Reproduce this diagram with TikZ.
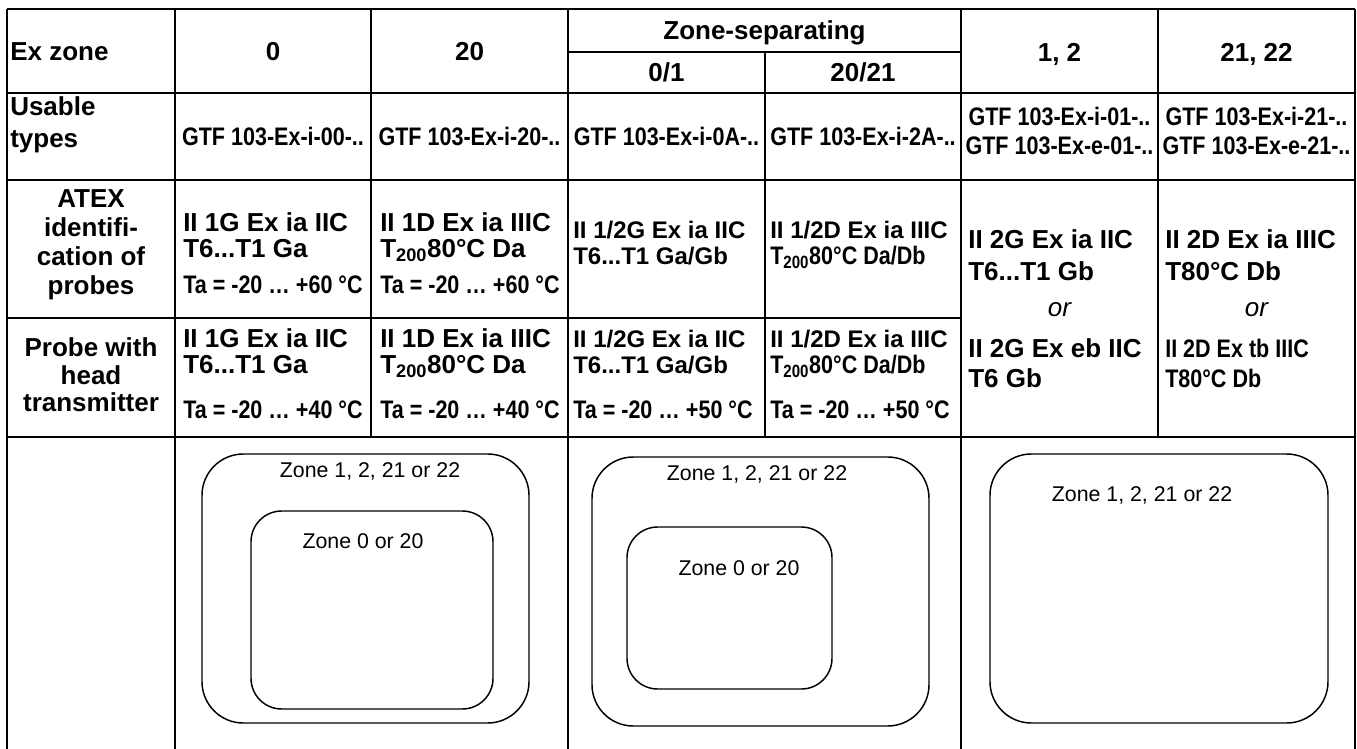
\documentclass[tikz,border=0pt]{standalone}
\usepackage{fontspec}
\setmainfont{Liberation Sans}
\newfontfamily\narrowfont[FakeStretch=0.85]{Liberation Sans}
\usepackage{tikz}

\tikzset{
  rule/.style={line width=1.5pt},
  zonebox/.style={line width=1.1pt, rounded corners=31pt},
  zoneboxin/.style={line width=1.1pt, rounded corners=23pt},
  hd/.style={inner sep=0pt, font=\fontsize{19.5}{23}\selectfont\bfseries},
  hdm/.style={inner sep=0pt, font=\fontsize{18}{22}\selectfont\bfseries},
  nar/.style={inner sep=0pt, font=\narrowfont\fontsize{19}{23}\selectfont\bfseries},
  ortxt/.style={inner sep=0pt, font=\fontsize{19.5}{23}\selectfont\itshape},
  zonelbl/.style={inner sep=0pt, font=\fontsize{16}{19}\selectfont}
}

\begin{document}
\begin{tikzpicture}[x=0.75pt, y=-0.75pt]
\useasboundingbox (0,0) rectangle (1357,749);
% table rules
\draw [rule] (7,9) -- (1355,9);
\draw [rule] (568,52) -- (961,52);
\draw [rule] (7,93) -- (1355,93);
\draw [rule] (7,180) -- (1355,180);
\draw [rule] (7,318) -- (961,318);
\draw [rule] (7,437) -- (1355,437);
\draw [rule] (7,9) -- (7,749);
\draw [rule] (175,9) -- (175,749);
\draw [rule] (371,9) -- (371,437);
\draw [rule] (568,9) -- (568,749);
\draw [rule] (765,52) -- (765,437);
\draw [rule] (961,9) -- (961,749);
\draw [rule] (1158,9) -- (1158,437);
\draw [rule] (1355,9) -- (1355,749);
% header row
\node [hd, anchor=base west] (exzone) at (10,61) {Ex zone};
\node [hd, anchor=base] (zzero) at (273,61) {0};
\node [hd, anchor=base] (ztwenty) at (469.5,61) {20};
\node [hd, anchor=base] (zsep) at (764.5,40) {Zone-separating};
\node [hd, anchor=base] (zsepa) at (666.5,82) {0/1};
\node [hd, anchor=base] (zsepb) at (863,82) {20/21};
\node [hd, anchor=base] (zonetwo) at (1059.5,62) {1, 2};
\node [hd, anchor=base] (ztwentytwo) at (1256.5,62) {21, 22};
% usable types
\node [hd, anchor=base west] (usable) at (10,115) {Usable};
\node [hd, anchor=base west] (types) at (10,147) {types};
\node [nar, anchor=base] (typea) at (273,146) {GTF 103-Ex-i-00-..};
\node [nar, anchor=base] (typeb) at (469.5,146) {GTF 103-Ex-i-20-..};
\node [nar, anchor=base] (typec) at (666.5,146) {GTF 103-Ex-i-0A-..};
\node [nar, anchor=base] (typed) at (863,146) {GTF 103-Ex-i-2A-..};
\node [nar, anchor=base] (typee) at (1059.5,125) {GTF 103-Ex-i-01-..};
\node [nar, anchor=base] (typef) at (1059.5,154) {GTF 103-Ex-e-01-..};
\node [nar, anchor=base] (typeg) at (1256.5,125) {GTF 103-Ex-i-21-..};
\node [nar, anchor=base] (typeh) at (1256.5,154) {GTF 103-Ex-e-21-..};
% ATEX identification
\node [hd, anchor=base] (atexa) at (91,207) {ATEX};
\node [hd, anchor=base] (atexb) at (91,236) {identifi-};
\node [hd, anchor=base] (atexc) at (91,265) {cation of};
\node [hd, anchor=base] (atexd) at (91,294) {probes};
\node [hd, anchor=base west] (pza) at (183,231) {II 1G Ex ia IIC};
\node [hd, anchor=base west] (pzb) at (183,257) {T6...T1 Ga};
\node [nar, anchor=base west] (pzc) at (183,293) {Ta = -20 … +60 °C};
\node [hd, anchor=base west] (pta) at (380,231) {II 1D Ex ia IIIC};
\node [hd, anchor=base west] (ptb) at (380,257) {T\textsubscript{200}80°C Da};
\node [nar, anchor=base west] (ptc) at (380,293) {Ta = -20 … +60 °C};
\node [hdm, anchor=base west] (psa) at (573,238) {II 1/2G Ex ia IIC};
\node [hdm, anchor=base west] (psb) at (573,264) {T6...T1 Ga/Gb};
\node [hdm, anchor=base west] (pda) at (770,238) {II 1/2D Ex ia IIIC};
\node [nar, anchor=base west] (pdb) at (770,264) {T\textsubscript{200}80°C Da/Db};
% probe with head transmitter
\node [hd, anchor=base] (heada) at (91,356) {Probe with};
\node [hd, anchor=base] (headb) at (91,384) {head};
\node [hd, anchor=base] (headc) at (91,411) {transmitter};
\node [hd, anchor=base west] (hza) at (183,347) {II 1G Ex ia IIC};
\node [hd, anchor=base west] (hzb) at (183,373) {T6...T1 Ga};
\node [nar, anchor=base west] (hzc) at (183,418) {Ta = -20 … +40 °C};
\node [hd, anchor=base west] (hta) at (380,347) {II 1D Ex ia IIIC};
\node [hd, anchor=base west] (htb) at (380,373) {T\textsubscript{200}80°C Da};
\node [nar, anchor=base west] (htc) at (380,418) {Ta = -20 … +40 °C};
\node [hdm, anchor=base west] (hsa) at (573,347) {II 1/2G Ex ia IIC};
\node [hdm, anchor=base west] (hsb) at (573,373) {T6...T1 Ga/Gb};
\node [nar, anchor=base west] (hsc) at (573,418) {Ta = -20 … +50 °C};
\node [hdm, anchor=base west] (hda) at (770,347) {II 1/2D Ex ia IIIC};
\node [nar, anchor=base west] (hdb) at (770,373) {T\textsubscript{200}80°C Da/Db};
\node [nar, anchor=base west] (hdc) at (770,418) {Ta = -20 … +50 °C};
% zones 1, 2 and 21, 22
\node [hd, anchor=base west] (ga) at (968,248) {II 2G Ex ia IIC};
\node [hd, anchor=base west] (gb) at (968,280) {T6...T1 Gb};
\node [ortxt, anchor=base] (gor) at (1059.5,316) {or};
\node [hd, anchor=base west] (gc) at (968,357) {II 2G Ex eb IIC};
\node [hd, anchor=base west] (gd) at (968,387) {T6 Gb};
\node [hd, anchor=base west] (da) at (1165,248) {II 2D Ex ia IIIC};
\node [hd, anchor=base west] (db) at (1165,280) {T80°C Db};
\node [ortxt, anchor=base] (dor) at (1256.5,316) {or};
\node [nar, anchor=base west] (dc) at (1165,357) {II 2D Ex tb IIIC};
\node [nar, anchor=base west] (dd) at (1165,387) {T80°C Db};
% zone sketches
\draw [zonebox] (202,454) rectangle (529,723);
\draw [zoneboxin] (251,511) rectangle (493,709);
\node [zonelbl] (outera) at (370,471) {Zone 1, 2, 21 or 22};
\node [zonelbl] (innera) at (363,541) {Zone 0 or 20};
\draw [zonebox] (592,457) rectangle (929,726);
\draw [zoneboxin] (627,527) rectangle (832,689);
\node [zonelbl] (outerb) at (757,474) {Zone 1, 2, 21 or 22};
\node [zonelbl] (innerb) at (739,568) {Zone 0 or 20};
\draw [zonebox] (990,454) rectangle (1328,723);
\node [zonelbl] (outerc) at (1142,495) {Zone 1, 2, 21 or 22};
\end{tikzpicture}
\end{document}
